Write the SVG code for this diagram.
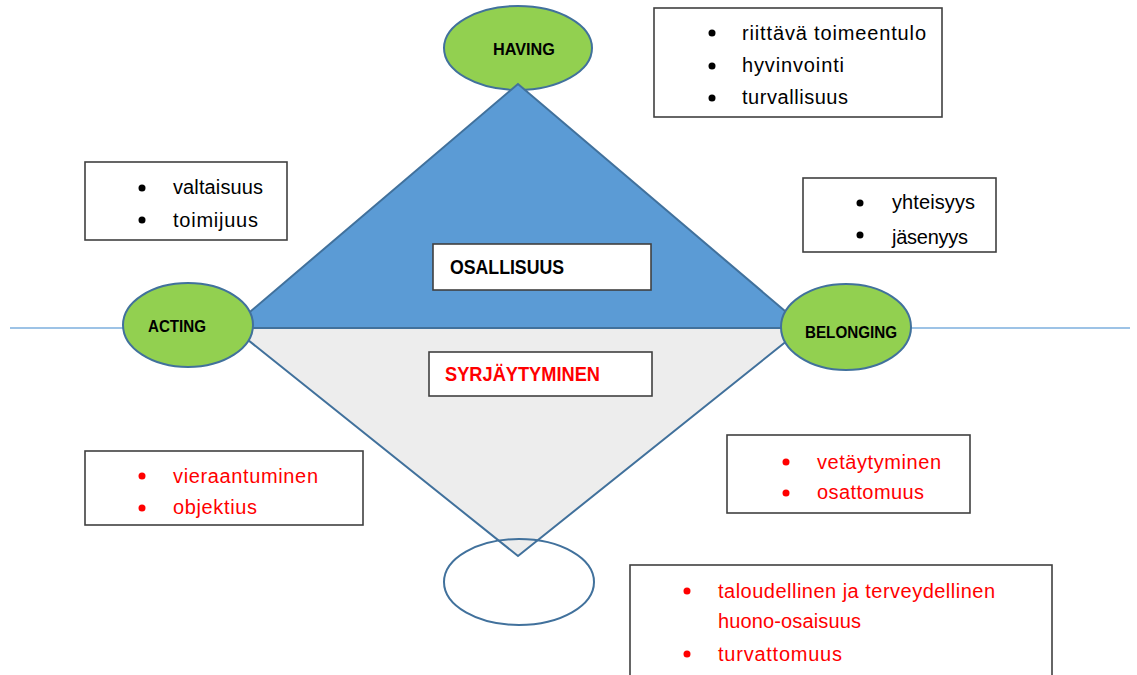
<svg xmlns="http://www.w3.org/2000/svg" width="1137" height="675" viewBox="0 0 1137 675">
<style>
.bg{fill:#ffffff}
.ell{fill:#92d050;stroke:#41719c;stroke-width:2}
.lbl{font-family:"Liberation Sans",Arial,sans-serif;font-weight:bold;font-size:16.5px;fill:#000000}
.box{fill:#ffffff;stroke:#404040;stroke-width:1.6}
.t{font-family:"Liberation Sans",Arial,sans-serif;font-size:20px;fill:#000000}
.r{fill:#ff0000}
.head{font-family:"Liberation Sans",Arial,sans-serif;font-weight:bold;font-size:20px}
.dot{fill:#000000}
.rdot{fill:#ff0000}
</style>
<defs>
<clipPath id="clipYht"><rect x="804" y="179" width="191" height="71"/></clipPath>
</defs>
<rect class="bg" x="0" y="0" width="1137" height="675"/>

<g id="connectors">
<line x1="10" y1="328" x2="1130" y2="328" stroke="#9dc3e6" stroke-width="2"/>
</g>

<g id="having">
<ellipse class="ell" cx="518" cy="48" rx="74" ry="42"/>
<text class="lbl" x="493" y="55" textLength="62" lengthAdjust="spacingAndGlyphs">HAVING</text>
</g>

<g id="triangles">
<polygon points="518,84 231,328 805,328" fill="#5b9bd5" stroke="#41719c" stroke-width="2" stroke-linejoin="miter"/>
<polygon points="233,328 803,328 518,556" fill="#ededed" stroke="#41719c" stroke-width="2"/>
</g>

<g id="bottom-ellipse">
<ellipse cx="519" cy="582" rx="75" ry="43" fill="none" stroke="#41719c" stroke-width="2"/>
</g>

<g id="acting">
<ellipse class="ell" cx="188" cy="325" rx="65" ry="42"/>
<text class="lbl" x="148" y="332" textLength="58" lengthAdjust="spacingAndGlyphs">ACTING</text>
</g>

<g id="belonging">
<ellipse class="ell" cx="846" cy="327" rx="65" ry="43"/>
<text class="lbl" x="805" y="338" textLength="92" lengthAdjust="spacingAndGlyphs">BELONGING</text>
</g>

<g id="osallisuus">
<rect class="box" x="433" y="244" width="218" height="46"/>
<text class="head" x="450" y="274" fill="#000000" textLength="114" lengthAdjust="spacingAndGlyphs">OSALLISUUS</text>
</g>

<g id="syrjaytyminen">
<rect class="box" x="429" y="352" width="223" height="44"/>
<text class="head" x="445" y="381" fill="#ff0000" textLength="155" lengthAdjust="spacingAndGlyphs">SYRJÄYTYMINEN</text>
</g>

<g id="box-having">
<rect class="box" x="654" y="8" width="288" height="109"/>
<circle class="dot" cx="712" cy="33" r="3.5"/>
<circle class="dot" cx="712" cy="66" r="3.5"/>
<circle class="dot" cx="712" cy="98" r="3.5"/>
<text class="t" x="742" y="40" textLength="184" lengthAdjust="spacing">riittävä toimeentulo</text>
<text class="t" x="742" y="72" textLength="102" lengthAdjust="spacing">hyvinvointi</text>
<text class="t" x="742" y="104" textLength="106" lengthAdjust="spacing">turvallisuus</text>
</g>

<g id="box-acting">
<rect class="box" x="85" y="162" width="202" height="78"/>
<circle class="dot" cx="142" cy="188" r="3.5"/>
<circle class="dot" cx="142" cy="220" r="3.5"/>
<text class="t" x="173" y="194" textLength="90" lengthAdjust="spacing">valtaisuus</text>
<text class="t" x="173" y="227" textLength="85" lengthAdjust="spacing">toimijuus</text>
</g>

<g id="box-belonging">
<rect class="box" x="803" y="178" width="193" height="74"/>
<circle class="dot" cx="860" cy="203" r="3.5"/>
<circle class="dot" cx="860" cy="235" r="3.5"/>
<g clip-path="url(#clipYht)">
<text class="t" x="892" y="209" textLength="83" lengthAdjust="spacing">yhteisyys</text>
<text class="t" x="892" y="244" textLength="76" lengthAdjust="spacing">jäsenyys</text>
</g>
</g>

<g id="box-vieraantuminen">
<rect class="box" x="85" y="451" width="278" height="74"/>
<circle class="rdot" cx="142" cy="476" r="3.5"/>
<circle class="rdot" cx="142" cy="508" r="3.5"/>
<text class="t r" x="173" y="483" textLength="145" lengthAdjust="spacing">vieraantuminen</text>
<text class="t r" x="173" y="514" textLength="84" lengthAdjust="spacing">objektius</text>
</g>

<g id="box-vetaytyminen">
<rect class="box" x="727" y="435" width="243" height="78"/>
<circle class="rdot" cx="786" cy="462" r="3.5"/>
<circle class="rdot" cx="786" cy="493" r="3.5"/>
<text class="t r" x="817" y="469" textLength="124" lengthAdjust="spacing">vetäytyminen</text>
<text class="t r" x="817" y="499" textLength="107" lengthAdjust="spacing">osattomuus</text>
</g>

<g id="box-huono-osaisuus">
<rect class="box" x="630" y="565" width="422" height="130"/>
<circle class="rdot" cx="687" cy="591" r="3.5"/>
<circle class="rdot" cx="687" cy="654" r="3.5"/>
<text class="t r" x="718" y="598" textLength="277" lengthAdjust="spacing">taloudellinen ja terveydellinen</text>
<text class="t r" x="718" y="628" textLength="143" lengthAdjust="spacing">huono-osaisuus</text>
<text class="t r" x="718" y="661" textLength="124" lengthAdjust="spacing">turvattomuus</text>
</g>
</svg>
